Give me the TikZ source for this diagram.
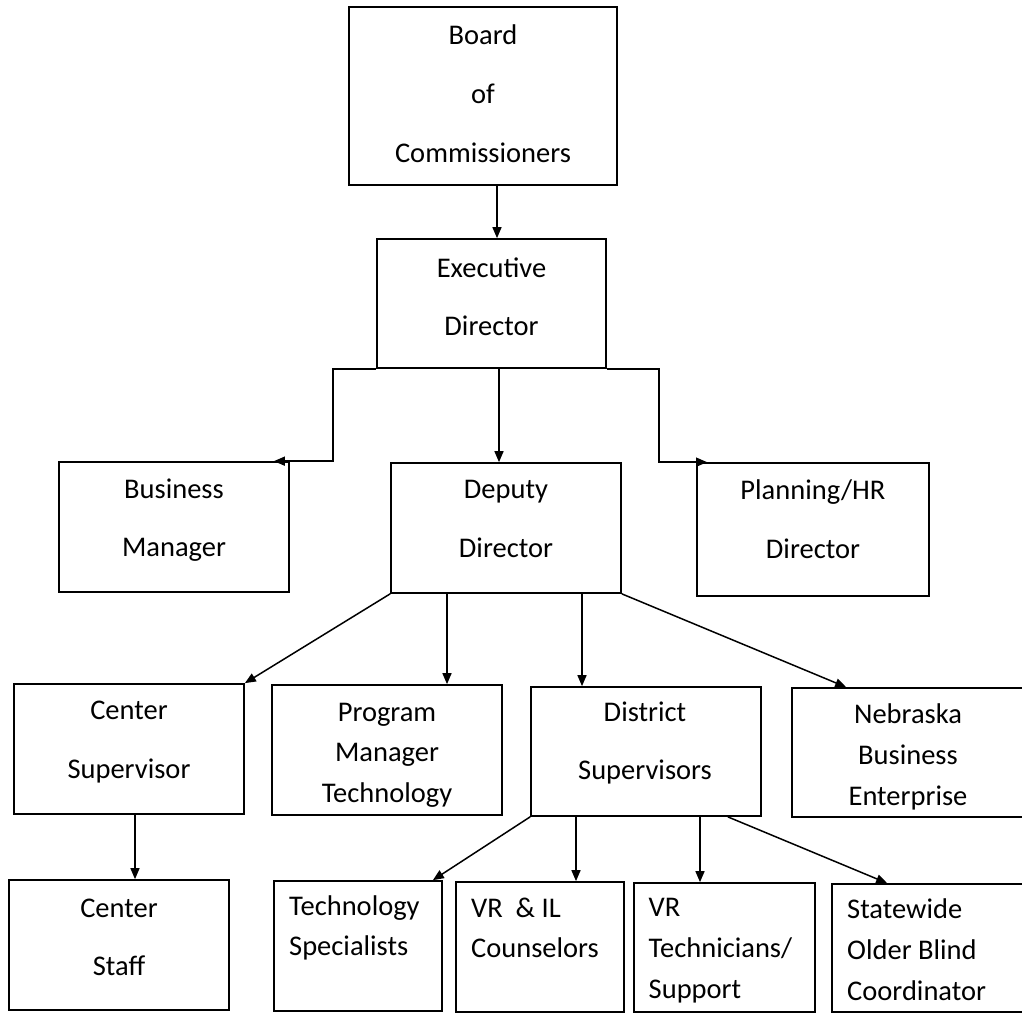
\documentclass[tikz,border=0pt]{standalone}
\usepackage{fontspec}
\setmainfont{Carlito}
\usetikzlibrary{arrows.meta}
\tikzset{
  box/.style={draw=black, line width=1.7pt, inner sep=0pt, fill=none},
  lbl/.style={inner sep=0pt, align=center, font=\fontsize{28.5}{58.5}\selectfont},
  lbltight/.style={inner sep=0pt, align=center, font=\fontsize{28.5}{40.5}\selectfont},
  lblleft/.style={inner sep=0pt, align=left, anchor=west, font=\fontsize{28.5}{40.5}\selectfont},
  conn/.style={draw=black, line width=1.5pt},
  arr/.style={conn, -{Triangle[length=11pt,width=9pt]}}
}
\begin{document}
\begin{tikzpicture}[x=1pt,y=-1pt]
\useasboundingbox (0,0) rectangle (1022,1013);
% boxes
\node[box, minimum width=268pt, minimum height=178pt] (board) at (483,96) {};
\node[box, minimum width=229pt, minimum height=129pt] (exec) at (491.5,303.5) {};
\node[box, minimum width=230pt, minimum height=130pt] (bm) at (174,527) {};
\node[box, minimum width=230pt, minimum height=130pt] (dep) at (506,528) {};
\node[box, minimum width=232pt, minimum height=133pt] (ph) at (813,529.5) {};
\node[box, minimum width=230pt, minimum height=130pt] (cs) at (129,749) {};
\node[box, minimum width=230pt, minimum height=130pt] (pm) at (387,750) {};
\node[box, minimum width=230pt, minimum height=129pt] (ds) at (646,751.5) {};
\node[box, minimum width=238pt, minimum height=129pt] (nb) at (911,752.5) {};
\node[box, minimum width=220pt, minimum height=130pt] (cst) at (119,945) {};
\node[box, minimum width=168pt, minimum height=130pt] (ts) at (358,946) {};
\node[box, minimum width=168pt, minimum height=130pt] (vi) at (540,947) {};
\node[box, minimum width=181pt, minimum height=129pt] (vt) at (724.5,947.5) {};
\node[box, minimum width=198pt, minimum height=128pt] (so) at (931,948) {};
% labels
\node[lbl, font=\fontsize{28.5}{59}\selectfont] (board-t) at (483,93.5) {Board\\of\\Commissioners};
\node[lbl] (exec-t) at (491.5,296.5) {Executive\\Director};
\node[lbl] (bm-t) at (174,520) {Business\\Manager};
\node[lbl] (dep-t) at (506,519) {Deputy\\Director};
\node[lbl] (ph-t) at (813,519) {Planning/HR\\Director};
\node[lbl] (cs-t) at (129,742) {Center\\Supervisor};
\node[lbltight] (pm-t) at (387,755) {Program\\Manager\\Technology};
\node[lbl] (ds-t) at (645,743) {District\\Supervisors};
\node[lbltight, font=\fontsize{28.5}{41}\selectfont] (nb-t) at (908,756.5) {Nebraska\\Business\\Enterprise};
\node[lbl] (cst-t) at (119,937.5) {Center\\Staff};
\node[lblleft] (ts-t) at (289,928) {Technology\\Specialists};
\node[lblleft] (vi-t) at (471,928) {VR\ \ \& IL\\Counselors};
\node[lblleft, font=\fontsize{28.5}{41}\selectfont] (vt-t) at (648.5,951) {VR\\Technicians/\\Support};
\node[lblleft, font=\fontsize{28.5}{41}\selectfont] (so-t) at (847,950) {Statewide\\Older Blind\\Coordinator};
% connectors
\draw[arr] ([xshift=14pt]board.south) -- ([xshift=5.5pt]exec.north);
\draw[arr] ([xshift=7.5pt]exec.south) -- ([xshift=-7pt]dep.north);
\draw[arr] (exec.south west) -- ++(-43,0) |- ([xshift=-16pt]bm.north east);
\draw[arr] (exec.south east) -- ++(52,0) |- ([xshift=11pt]ph.north west);
\draw[arr] (dep.south west) -- (cs.north east);
\draw[arr] ([xshift=-59pt]dep.south) -- ([xshift=-59pt]dep.south |- pm.north);
\draw[arr] ([xshift=76pt]dep.south) -- ([xshift=76pt]dep.south |- ds.north);
\draw[arr] (dep.south east) -- ([xshift=55pt]nb.north west);
\draw[arr] ([xshift=6pt]cs.south) -- ([xshift=6pt]cs.south |- cst.north);
\draw[arr] (ds.south west) -- ([xshift=-10pt]ts.north east);
\draw[arr] ([xshift=-70pt]ds.south) -- ([xshift=-70pt]ds.south |- vi.north);
\draw[arr] ([xshift=54pt]ds.south) -- ([xshift=54pt]ds.south |- vt.north);
\draw[arr] ([xshift=-34pt]ds.south east) -- ([xshift=56pt]so.north west);
\end{tikzpicture}
\end{document}
